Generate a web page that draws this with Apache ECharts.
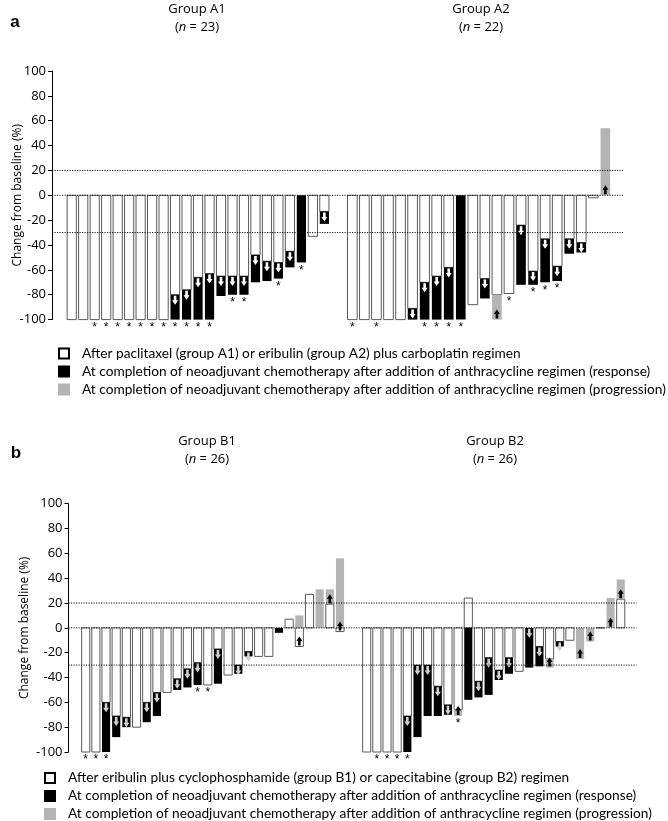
<!DOCTYPE html>
<html><head><meta charset="utf-8">
<script src="https://cdn.jsdelivr.net/npm/echarts@6/dist/echarts.min.js"></script>
<style>html,body{margin:0;padding:0;background:#fff}#c{width:668px;height:821px}</style>
</head><body><div id="c"></div>
<script>
// ---------------- DATA ----------------
const yMin = -100, yMax = 100, yStep = 20;
const refLines = [20, 0, -30];

// Group A1 (n = 23)
const a1First = [-100,-100,-100,-100,-100,-100,-100,-100,-100,-80,-76,-66,-63,-65,-65,-65,-48,-53,-54,-45,0,-33,-13];
const a1Final = [null,null,null,null,null,null,null,null,null,-100,-100,-100,-100,-81,-80,-80,-70,-69,-67,-58,-54,null,-23];
const a1Kind  = 'WWWWWWWWWRRRRRRRRRRRrWR'.split('');
const a1Stars = [3,4,5,6,7,8,9,10,11,12,13,15,16,19,21];

// Group A2 (n = 22)
const a2First = [-100,-100,-100,-100,-100,-91,-70,-65,-58,0,-88,-67,-100,-79,-24,-61,-35,-57,-35,-38,-2,0];
const a2Final = [null,null,null,null,null,-100,-100,-100,-100,-100,null,-83,-80,null,-72,-72,-70,-69,-47,-46,null,54];
const a2Kind  = 'WWWWWRRRRrWRPWRRRRRRWP'.split('');
const a2Stars = [1,3,7,8,9,10,14,16,17,18];

// Group B1 (n = 26)
const b1First = [-100,-100,-60,-71,-72,-80,-60,-52,-52,-41,-33,-28,-46,-17,-38,-30,-19,-23,-23,0,7,-15,27,0,19,-3];
const b1Final = [null,null,-100,-88,-80,null,-76,-71,null,-50,-48,-46,null,-45,null,-37,-23,null,null,-4,null,10,null,31,31,56];
const b1Kind  = 'WWRRRWRRWRRRWRWRRWWrWPWpPP'.split('');
const b1Stars = [1,2,3,12,13];

// Group B2 (n = 26)
const b2First = [-100,-100,-100,-100,-71,-30,-30,-47,-62,-71,24,-43,-24,-34,-24,-35,0,-15,-32,-11,-10,-25,-11,0,0,23];
const b2Final = [null,null,null,null,-100,-88,-71,-71,-70,-66,-58,-56,-54,-42,-37,null,-32,-31,-25,-15,null,0,0,null,24,39];
const b2Kind  = 'WWWWRRRRRPrRRRRWRRPRWPPWPP'.split('');
const b2Stars = [2,3,4,5,10];

const legWhiteA = 'After paclitaxel (group A1) or eribulin (group A2) plus carboplatin regimen';
const legWhiteB = 'After eribulin plus cyclophosphamide (group B1) or capecitabine (group B2) regimen';
const legResp   = 'At completion of neoadjuvant chemotherapy after addition of anthracycline regimen (response)';
const legProg   = 'At completion of neoadjuvant chemotherapy after addition of anthracycline regimen (progression)';
const yName = 'Change from baseline (%)';

// ---------------- STYLE ----------------
const BLACK = '#000', GRAY = '#b4b4b4', EDGE = '#5a5a5a';
const FONT = 'Open Sans';

function barSeries(gi, first, final, kind, stars, respArrow) {
  return {
    type: 'custom', xAxisIndex: gi, yAxisIndex: gi, z: 2, silent: true,
    data: first.map((v, i) => [i, v, final[i] == null ? v : final[i]]),
    encode: { x: 0, y: [1, 2] },
    renderItem(params, api) {
      const i = params.dataIndex;
      const v1 = first[i], v2 = final[i], k = kind[i];
      const bw = api.size([1, 0])[0] * 0.8;
      const cx = api.coord([i, 0])[0];
      const x0 = cx - bw / 2;
      const py = v => api.coord([i, v])[1];
      const kids = [];
      const rect = (a, b, fill, stroke) => {
        const ya = py(a), yb = py(b);
        kids.push({ type: 'rect', shape: { x: x0, y: Math.min(ya, yb), width: bw, height: Math.abs(ya - yb) },
          style: { fill, stroke: stroke || null, lineWidth: 1 } });
      };
      const col = (k === 'P' || k === 'p') ? GRAY : BLACK;
      if (v2 == null) {
        rect(0, v1, '#fff', EDGE);
      } else if (v1 === 0 || v1 * v2 < 0) {
        if (v1 !== 0) rect(0, v1, '#fff', EDGE);
        rect(0, v2, col);
      } else if (Math.abs(v2) >= Math.abs(v1)) {
        rect(0, v1, '#fff', EDGE);
        rect(v1, v2, col);
      } else {
        if (v2 !== 0) rect(0, v2, '#fff', EDGE);
        rect(v2, v1, col);
      }
      if (k === 'R' || k === 'P') {
        const dir = v2 > v1 ? -1 : 1;
        const ya = py(v1) + dir * 1;
        const sw = 1.3, hw = 3, sl = 4.5, tl = 9;
        kids.push({ type: 'polygon', shape: { points: [
          [cx - sw, ya], [cx + sw, ya], [cx + sw, ya + dir * sl], [cx + hw, ya + dir * sl],
          [cx, ya + dir * tl], [cx - hw, ya + dir * sl], [cx - sw, ya + dir * sl]] },
          style: { fill: k === 'R' ? respArrow : BLACK } });
      }
      if (stars.indexOf(i + 1) >= 0) {
        const low = Math.max(py(0), py(v1), v2 == null ? py(v1) : py(v2));
        kids.push({ type: 'text', x: cx, y: low + 2,
          style: { text: '*', fontSize: 12, fontFamily: 'Liberation Sans', fill: '#000', align: 'center', verticalAlign: 'top' } });
      }
      return { type: 'group', children: kids };
    }
  };
}

function refSeries(gi) {
  return refLines.map(v => ({
    type: 'line', xAxisIndex: gi, yAxisIndex: gi, z: 5, silent: true, symbol: 'none',
    data: [[0, v], [1, v]],
    lineStyle: { color: '#111', width: 1, type: [1.2, 1.3] }
  }));
}

const grids = [
  { left: 66, width: 264.1, top: 71, height: 248.6 },      // 0 A1
  { left: 346.3, width: 265.1, top: 71, height: 248.6 },   // 1 A2
  { left: 52, width: 571, top: 71, height: 248.6 },        // 2 ref A
  { left: 80.6, width: 264.5, top: 503.7, height: 248.3 }, // 3 B1
  { left: 361.6, width: 264.2, top: 503.7, height: 248.3 },// 4 B2
  { left: 68.5, width: 568, top: 503.7, height: 248.3 }    // 5 ref B
].map(g => Object.assign(g, { containLabel: false, outerBoundsMode: 'none' }));
const counts = [a1First.length, a2First.length, 0, b1First.length, b2First.length, 0];

const xAxes = grids.map((g, gi) => counts[gi]
  ? { type: 'category', gridIndex: gi, data: Array.from({ length: counts[gi] }, (_, i) => i + 1), show: false }
  : { type: 'value', gridIndex: gi, min: 0, max: 1, show: false });

const yAxes = grids.map((g, gi) => {
  const vis = (gi === 2 || gi === 5);
  return {
    type: 'value', gridIndex: gi, min: yMin, max: yMax, interval: yStep, show: vis,
    splitLine: { show: false },
    axisLine: { show: vis, lineStyle: { color: '#000', width: 1 } },
    axisTick: { show: vis, length: 4, lineStyle: { color: '#000', width: 1 } },
    axisLabel: { show: vis, color: '#000', fontSize: 13, fontFamily: FONT, margin: 6 },
    name: vis ? yName : '', nameLocation: 'middle', nameGap: gi === 2 ? 28 : 38,
    nameMoveOverlap: false,
    nameTextStyle: { color: '#000', fontSize: 12, fontFamily: FONT }
  };
});

const dummy = (name, color, border) => ({
  type: 'bar', name, data: [], xAxisIndex: 0, yAxisIndex: 0,
  itemStyle: { color, borderColor: border || color, borderWidth: 1 }
});

function titleText(x, y, group, n) {
  return [
    { type: 'text', x, y, style: { text: 'Group ' + group, fontSize: 13, fontFamily: 'Open Sans', fill: '#000', align: 'center', verticalAlign: 'middle' } },
    { type: 'text', x, y: y + 18, style: { text: '({i|n} = ' + n + ')', fontSize: 13, fontFamily: 'Open Sans', fill: '#000', align: 'center', verticalAlign: 'middle',
      rich: { i: { fontStyle: 'italic', fontSize: 13, fontFamily: 'Open Sans', fill: '#000' } } } }
  ];
}

const legendCommon = {
  orient: 'vertical', itemWidth: 10, itemHeight: 10, itemGap: 4, icon: 'rect', selectedMode: false, padding: 0,
  width: 640, height: 70,
  textStyle: { fontFamily: 'Lato', fontSize: 13.7, lineHeight: 13, color: '#000', padding: [0, 0, 0, 8] }
};

const chart = echarts.init(document.getElementById('c'), null, { renderer: 'canvas' });
chart.setOption({
  animation: false,
  backgroundColor: '#fff',
  grid: grids,
  xAxis: xAxes,
  yAxis: yAxes,
  legend: [
    Object.assign({}, legendCommon, { left: 58, top: 346.5, data: [legWhiteA, legResp, legProg] }),
    Object.assign({}, legendCommon, { left: 44, top: 771, data: [legWhiteB, legResp, legProg] })
  ],
  graphic: [
    { type: 'text', x: 15, y: 22, style: { text: 'a', fontSize: 17, fontWeight: 'bold', fontFamily: 'Liberation Sans', fill: '#000', align: 'center', verticalAlign: 'middle' } },
    { type: 'text', x: 16, y: 453, style: { text: 'b', fontSize: 17, fontWeight: 'bold', fontFamily: 'Liberation Sans', fill: '#000', align: 'center', verticalAlign: 'middle' } },
    ...titleText(197, 9.5, 'A1', 23),
    ...titleText(481, 9.5, 'A2', 22),
    ...titleText(207, 441, 'B1', 26),
    ...titleText(495, 441, 'B2', 26)
  ],
  series: [
    dummy(legWhiteA, '#fff', '#000'),
    dummy(legWhiteB, '#fff', '#000'),
    dummy(legResp, BLACK),
    dummy(legProg, GRAY),
    barSeries(0, a1First, a1Final, a1Kind, a1Stars, '#fff'),
    barSeries(1, a2First, a2Final, a2Kind, a2Stars, '#fff'),
    barSeries(3, b1First, b1Final, b1Kind, b1Stars, '#d0d0d0'),
    barSeries(4, b2First, b2Final, b2Kind, b2Stars, '#d0d0d0'),
    ...refSeries(2),
    ...refSeries(5)
  ]
});
</script></body></html>
